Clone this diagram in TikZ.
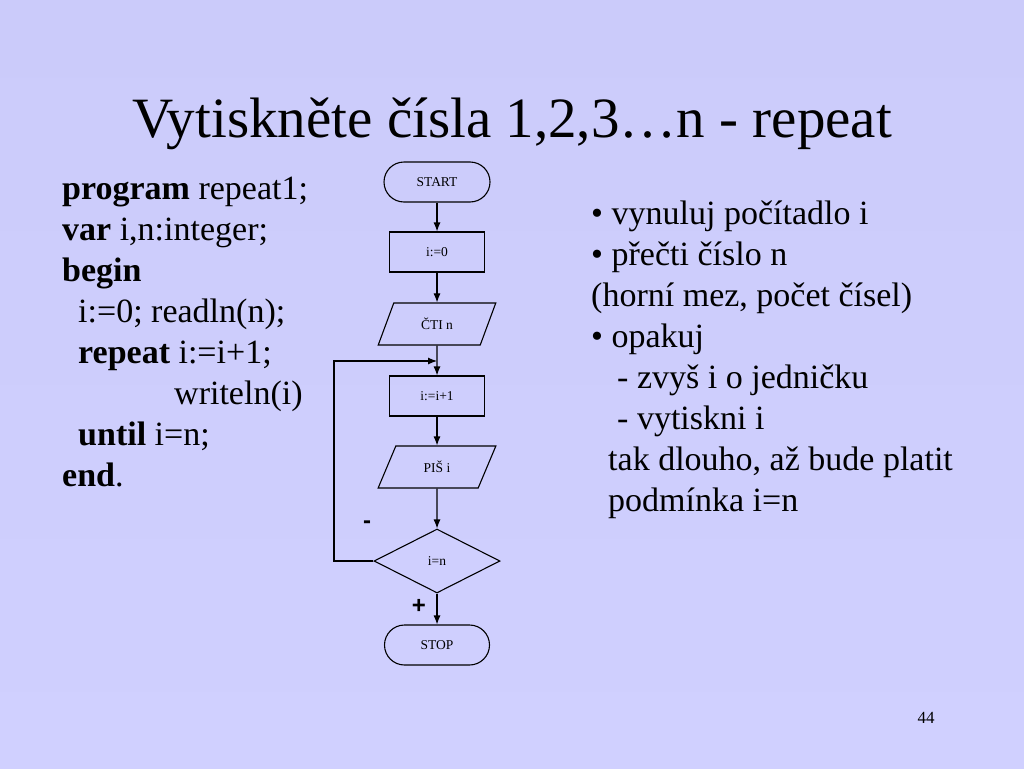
\documentclass[tikz,border=0pt]{standalone}
\usepackage{fontspec}
\setmainfont{Liberation Serif}
\newfontfamily\signfont{Liberation Sans}
\usepackage{xcolor}
\usepackage{tikz}
\usetikzlibrary{arrows.meta}
\usetikzlibrary{shapes.geometric}
\definecolor{bgtop}{RGB}{203,203,250}
\definecolor{bgmid}{RGB}{242,242,255}
\definecolor{bgbot}{RGB}{208,208,255}

\begin{document}
\begin{tikzpicture}
[every node/.style={inner sep=0pt},
 term/.style={rectangle, rounded corners=20pt, minimum height=40pt, line width=1.1pt, draw=black, font=\fontsize{13.5}{15}\selectfont},
 box/.style={rectangle, minimum width=95pt, minimum height=40pt, line width=1.1pt, draw=black, font=\fontsize{13.5}{15}\selectfont},
 io/.style={trapezium, trapezium left angle=64, trapezium right angle=116, trapezium stretches=true, minimum width=118pt, minimum height=42pt, line width=1.1pt, draw=black, font=\fontsize{13.5}{15}\selectfont},
 cond/.style={diamond, minimum width=126pt, minimum height=64pt, line width=1.1pt, draw=black, font=\fontsize{13.5}{15}\selectfont},
 arr/.style={line width=1.1pt, ->, >={Latex[length=9pt, width=7pt]}},
 code/.style={anchor=base west, font=\fontsize{34}{41}\selectfont}]
\shade [top color=bgtop, middle color=bgmid, bottom color=bgbot] (0pt, 0pt) rectangle (1024pt, -768pt);
\useasboundingbox (0pt, 0pt) rectangle (1024pt, -768pt);
\node (1) [anchor=base, font=\fontsize{57}{60}\selectfont] at (512pt, -137pt) {Vytiskněte čísla 1,2,3…n - repeat};
% flowchart
\node (2) [term, minimum width=106pt] at (437pt, -182pt) {START};
\node (3) [box] at (437pt, -252pt) {i:=0};
\node (4) [io] at (437pt, -324pt) {ČTI n};
\node (5) [box] at (437pt, -396pt) {i:=i+1};
\node (6) [io] at (437pt, -467pt) {PIŠ i};
\node (7) [cond] at (437pt, -561pt) {i=n};
\node (8) [term, minimum width=105pt] at (437pt, -645pt) {STOP};
\coordinate (9) at (334pt, -361pt);
\coordinate (10) at (437pt, -361pt);
\draw [arr] (2) to (3);
\draw [arr] (3) to (4);
\draw [arr] (4) to (5);
\draw [arr] (5) to (6);
\draw [arr] (6) to (7);
\draw [arr] (7) to (8);
\draw [arr] (7.west) -| (9) -- (10);
\node (11) [font=\signfont\bfseries\fontsize{24}{24}\selectfont] at (367pt, -525pt) {-};
\node (12) [font=\signfont\bfseries\fontsize{24}{24}\selectfont] at (419pt, -606pt) {+};
% program
\node (13) [code] at (62pt, -199pt) {\textbf{program} repeat1;};
\node (14) [code] at (62pt, -240pt) {\textbf{var} i,n:integer;};
\node (15) [code] at (62pt, -281pt) {\textbf{begin}};
\node (16) [code] at (78pt, -322pt) {i:=0; readln(n);};
\node (17) [code] at (78pt, -363pt) {\textbf{repeat} i:=i+1;};
\node (18) [code] at (174pt, -404pt) {writeln(i)};
\node (19) [code] at (78pt, -445pt) {\textbf{until} i=n;};
\node (20) [code] at (62pt, -486pt) {\textbf{end}.};
% comments
\node (21) [code] at (591pt, -224pt) {• vynuluj počítadlo i};
\node (22) [code] at (591pt, -265pt) {• přečti číslo n};
\node (23) [code] at (591pt, -306pt) {(horní mez, počet čísel)};
\node (24) [code] at (591pt, -347pt) {• opakuj};
\node (25) [code] at (617pt, -388pt) {- zvyš i o jedničku};
\node (26) [code] at (617pt, -429pt) {- vytiskni i};
\node (27) [code] at (608pt, -470pt) {tak dlouho, až bude platit};
\node (28) [code] at (608pt, -511pt) {podmínka i=n};
\node (29) [font=\fontsize{17}{17}\selectfont] at (926pt, -718pt) {44};
\end{tikzpicture}
\end{document}
